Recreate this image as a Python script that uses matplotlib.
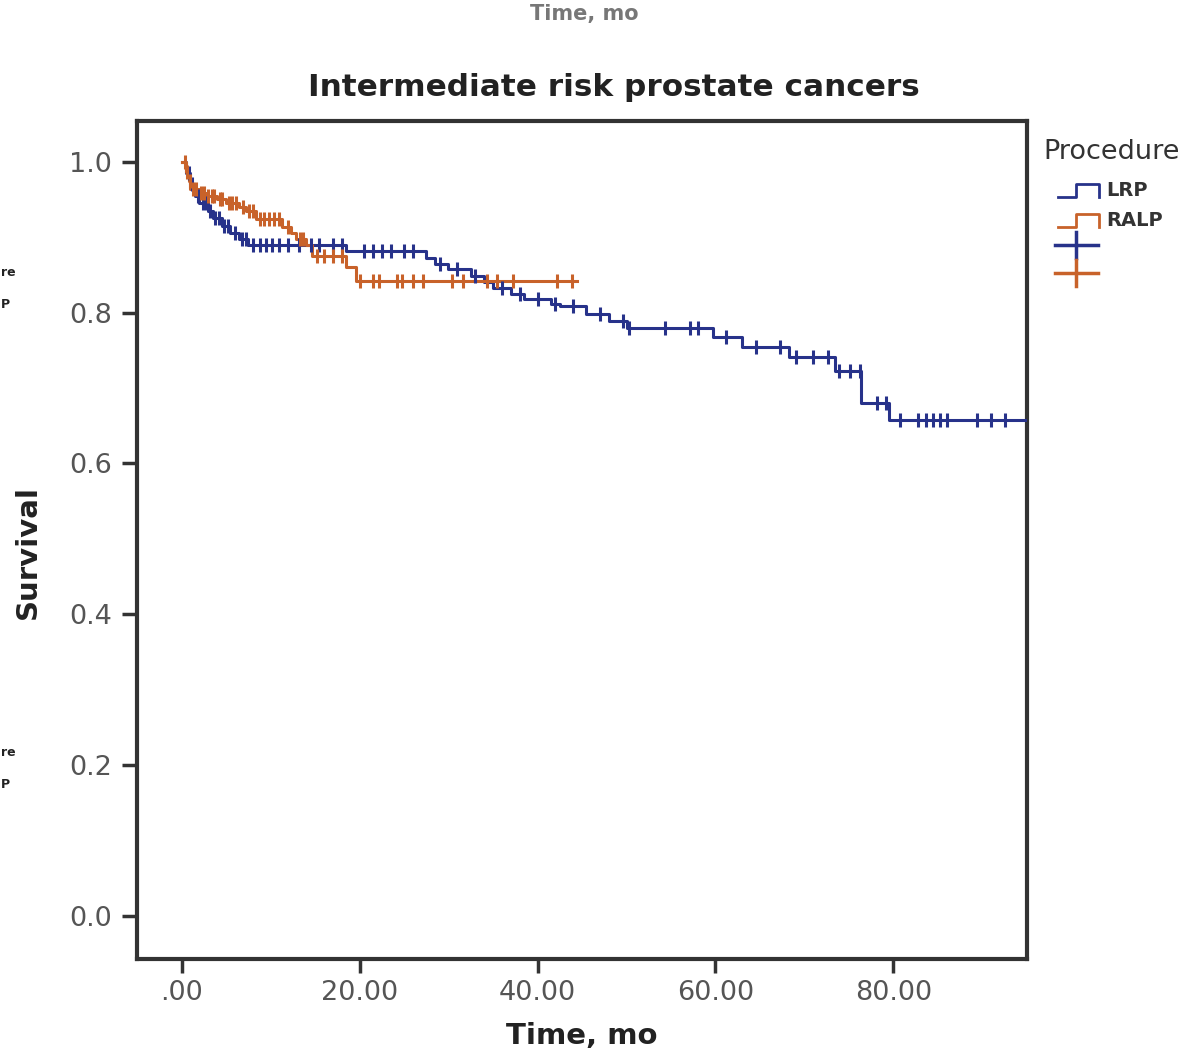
import numpy as np
import matplotlib
matplotlib.use("Agg")
import matplotlib.pyplot as plt
from matplotlib.lines import Line2D

# ---------------- data ----------------
title = "Intermediate risk prostate cancers"
x_label = "Time, mo"
y_label = "Survival"
legend_title = "Procedure"
groups = ["LRP", "RALP"]

x_ticks = [0, 20, 40, 60, 80]
x_tick_labels = [".00", "20.00", "40.00", "60.00", "80.00"]
y_ticks = [0.0, 0.2, 0.4, 0.6, 0.8, 1.0]
y_tick_labels = ["0.0", "0.2", "0.4", "0.6", "0.8", "1.0"]

# LRP Kaplan-Meier step function (time of step, survival after step)
lrp_times = [0.0, 0.5, 1.0, 1.5, 2.0, 3.0, 3.5, 4.5, 5.5, 6.5, 7.5, 18.5, 27.5,
             28.5, 30.0, 32.5, 34.0, 35.0, 37.0, 38.5, 41.5, 42.5, 45.5, 48.0,
             50.0, 59.7, 63.0, 68.3, 73.4, 76.4, 79.5]
lrp_surv = [1.0, 0.985, 0.97, 0.955, 0.945, 0.935, 0.925, 0.915, 0.905, 0.897,
            0.889, 0.882, 0.872, 0.865, 0.858, 0.849, 0.840, 0.832, 0.825, 0.818,
            0.812, 0.809, 0.798, 0.789, 0.779, 0.768, 0.755, 0.741, 0.722, 0.680,
            0.657]
lrp_end = 95.0
lrp_censor = [0.8, 1.2, 1.8, 2.4, 2.7, 3.2, 3.8, 4.2, 4.8, 5.2, 6.0, 6.8, 7.2,
              8.0, 8.8, 9.5, 10.2, 11.0, 12.0, 13.2, 14.5, 15.5, 17.0, 18.0,
              20.5, 21.5, 22.5, 23.5, 25.0, 26.0, 29.0, 31.0, 33.0, 36.0, 38.0,
              40.0, 42.0, 44.0, 47.0, 49.6, 50.3, 54.3, 57.1, 58.0, 61.2, 64.6,
              67.2, 69.1, 70.9, 72.6, 73.9, 75.1, 76.2, 78.2, 79.2, 80.7, 82.7,
              83.7, 84.4, 85.2, 86.0, 89.4, 91.0, 92.5]

# RALP Kaplan-Meier step function
ralp_times = [0.0, 0.5, 0.8, 1.0, 2.0, 2.8, 4.0, 5.0, 6.5, 7.3, 8.4, 11.3, 12.3,
              12.9, 14.0, 14.7, 18.5, 19.6]
ralp_surv = [1.0, 0.987, 0.975, 0.964, 0.958, 0.954, 0.950, 0.945, 0.940, 0.935,
             0.924, 0.914, 0.905, 0.897, 0.889, 0.875, 0.861, 0.842]
ralp_end = 44.4
ralp_censor = [0.4, 0.6, 0.9, 1.3, 1.6, 2.2, 2.5, 3.0, 3.4, 3.7, 4.3, 4.6, 5.3,
               5.7, 6.1, 6.9, 7.6, 8.0, 8.8, 9.3, 9.8, 10.4, 11.0, 12.0, 13.3,
               13.7, 15.2, 16.0, 17.0, 18.0, 20.0, 21.5, 22.2, 24.2, 24.8, 26.0,
               27.1, 30.4, 31.6, 34.3, 35.5, 37.2, 42.2, 43.9]

# ---------------- style ----------------
blue = "#27328a"
orange = "#c8622a"
W, H = 1197, 1054
fig = plt.figure(figsize=(W / 100, H / 100), dpi=100)
ax = fig.add_axes([137 / W, 1 - 959 / H, (1027 - 137) / W, (959 - 121) / H])


def fx(px):
    return px / W


def fy(py):
    return 1 - py / H


def step_value(times, surv, t):
    idx = np.searchsorted(times, t, side="right") - 1
    return np.asarray(surv)[idx]


for times, surv, end, cens, col in [
    (lrp_times, lrp_surv, lrp_end, lrp_censor, blue),
    (ralp_times, ralp_surv, ralp_end, ralp_censor, orange),
]:
    xs = list(times) + [end]
    ys = list(surv) + [surv[-1]]
    ax.step(xs, ys, where="post", color=col, lw=2.2, zorder=3)
    cy = step_value(np.array(times), surv, np.array(cens))
    ax.plot(cens, cy, ls="none", marker="|", ms=10, mew=2.2, color=col, zorder=4)

ax.set_xlim(-5, 95)
ax.set_ylim(-0.057, 1.054)
ax.set_xticks(x_ticks)
ax.set_xticklabels(x_tick_labels)
ax.set_yticks(y_ticks)
ax.set_yticklabels(y_tick_labels)
ax.tick_params(axis="both", direction="out", width=2.5, color="#333333",
               labelsize=19.5, labelcolor="#555555")
ax.tick_params(axis="x", length=10, pad=5)
ax.tick_params(axis="y", length=11, pad=7)
for s in ax.spines.values():
    s.set_linewidth(3)
    s.set_color("#333333")

fig.text(fx(614), fy(88), title, fontsize=22.4, fontweight="bold", color="#222222",
         ha="center", va="center")
ax.set_xlabel(x_label, fontsize=21, fontweight="bold", color="#222222", labelpad=12)
fig.text(fx(28), fy(552), y_label, rotation=90, fontsize=21, fontweight="bold",
         color="#222222", ha="center", va="center")

# legend (drawn manually)
fig.text(fx(1043), fy(152), legend_title, fontsize=19.5, color="#333333",
         ha="left", va="center")
for i, (g, col) in enumerate(zip(groups, [blue, orange])):
    base = 197 + i * 30
    top = base - 13
    xs = [fx(1058), fx(1076), fx(1076), fx(1099), fx(1099)]
    ys = [fy(base), fy(base), fy(top), fy(top), fy(base)]
    fig.add_artist(Line2D(xs, ys, color=col, lw=2, transform=fig.transFigure))
    fig.text(fx(1106), fy(base - 6), g, fontsize=14, color="#333333",
             ha="left", va="center", fontweight="bold")
for i, col in enumerate([blue, orange]):
    cy = 245 + i * 28
    fig.add_artist(Line2D([fx(1055), fx(1098)], [fy(cy), fy(cy)], color=col, lw=2.5,
                          transform=fig.transFigure))
    fig.add_artist(Line2D([fx(1076), fx(1076)], [fy(cy - 13), fy(cy + 13)], color=col,
                          lw=2.5, transform=fig.transFigure))

# fragments of neighbouring panels
fig.text(fx(584), fy(20), x_label, fontsize=15, fontweight="bold",
         color="#777777", ha="center", va="baseline")
for yy in [272, 752]:
    fig.text(0.001, fy(yy), "re", fontsize=9, fontweight="bold", color="#222222",
             ha="left", va="center")
    fig.text(0.001, fy(yy + 33), "P", fontsize=9, fontweight="bold", color="#222222",
             ha="left", va="center")

fig.savefig("out.png", dpi=100, facecolor="white")
